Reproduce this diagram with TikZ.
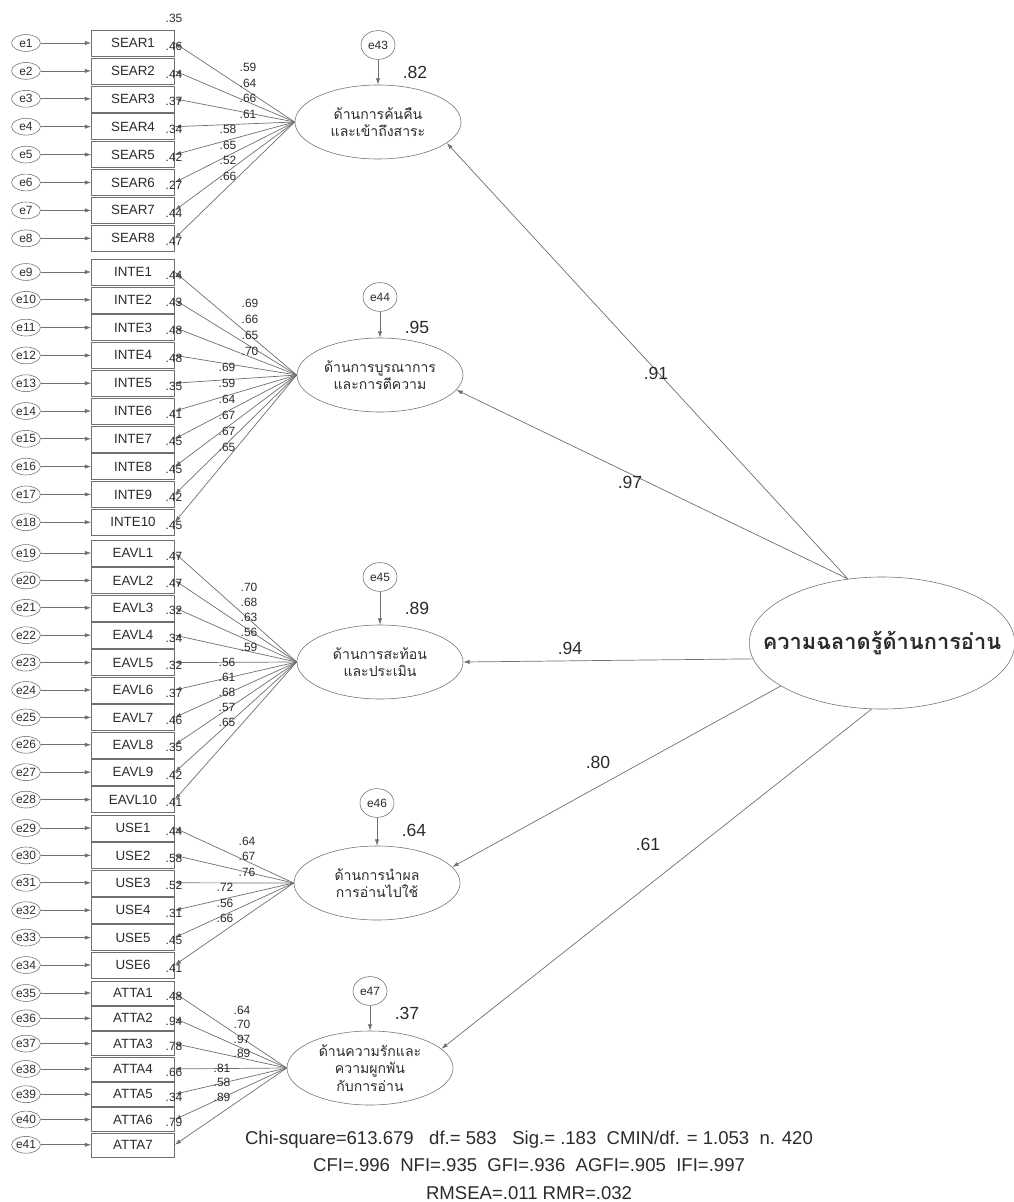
\documentclass[tikz,border=0pt]{standalone}
\usepackage{fontspec}
\setmainfont{Liberation Sans}
\newfontfamily\thaifont[Script=Thai]{Loma}
\usetikzlibrary{arrows.meta,calc,positioning,shapes.geometric}
\definecolor{semgray}{HTML}{6F6F6F}
\definecolor{semtext}{HTML}{2B2B2B}
\tikzset{
  errnode/.style={draw=semgray, ellipse, minimum width=0.72cm, minimum height=0.42cm, inner sep=0pt, text=semtext, font=\fontsize{8.5}{9}\selectfont},
  disturb/.style={draw=semgray, ellipse, minimum width=0.85cm, minimum height=0.72cm, inner sep=0pt, text=semtext, font=\fontsize{8.5}{9}\selectfont},
  itembox/.style={draw=semgray, rectangle, minimum width=2.075cm, minimum height=0.65cm, inner sep=0pt, text=semtext, font=\fontsize{9.5}{10}\selectfont},
  attabox/.style={itembox, minimum height=0.6cm},
  factor/.style={draw=semgray, ellipse, minimum width=4.15cm, minimum height=1.85cm, inner sep=0pt, align=center, text=semtext, font=\thaifont\fontsize{10}{12.5}\selectfont},
  second/.style={draw=semgray, ellipse, minimum width=6.45cm, minimum height=3.3cm, inner xsep=-18pt, inner ysep=0pt, text=semtext, font=\thaifont\bfseries\fontsize{15.5}{18}\selectfont},
  semarrow/.style={semgray, line width=0.5pt, -{Latex[length=4.5pt,width=3pt]}},
  est/.style={inner sep=0pt, text=semtext, font=\fontsize{8.5}{9}\selectfont},
  bigest/.style={inner sep=0pt, text=semtext, font=\fontsize{12.5}{13}\selectfont},
  fitnote/.style={inner sep=0pt, align=center, text=semtext, font=\fontsize{13.2}{19.5}\selectfont}
}
\begin{document}
\begin{tikzpicture}[x=0.025cm, y=-0.025cm]
  \useasboundingbox (0,0) rectangle (1013,1202);
  % factors
  \node[second] (reading) at (882,643) {ความฉลาดรู้ด้านการอ่าน};
  \node[factor] (sear) at (378,122) {ด้านการค้นคืน\\และเข้าถึงสาระ};
  \node[factor] (inte) at (380,375) {ด้านการบูรณาการ\\และการตีความ};
  \node[factor] (eavl) at (380,662) {ด้านการสะท้อน\\และประเมิน};
  \node[factor] (use) at (377,883) {ด้านการนำผล\\การอ่านไปใช้};
  \node[factor] (atta) at (370,1068) {ด้านความรักและ\\ความผูกพัน\\กับการอ่าน};
  % disturbances
  \foreach \k/\fac/\yy/\rsq/\ry in {43/sear/45/.82/72, 44/inte/297/.95/327, 45/eavl/577/.89/608, 46/use/803/.64/830, 47/atta/991/.37/1013}{
    \path (\fac) ++(0,0) coordinate (tmp);
    \node[disturb] (e\k) at (tmp |- 0,\yy) {e\k};
    \draw[semarrow] (e\k) -- (\fac);
    \node[bigest] at ($(e\k)+(37,\ry-\yy)$) {\rsq};
  }
  % second order paths
  \draw[semarrow] (reading.118) -- (sear.-17);
  \draw[semarrow] (reading.118) -- (inte.-11);
  \draw[semarrow] (reading.187) -- (eavl.east);
  \draw[semarrow] (reading.203) -- (use.12);
  \draw[semarrow] (reading.261) -- (atta.15);
  \node[bigest] at (656,373) {.91};
  \node[bigest] at (630,482) {.97};
  \node[bigest] at (570,648) {.94};
  \node[bigest] at (598,762) {.80};
  \node[bigest] at (648,844) {.61};

  % SEAR
  \node[est] at (174,18) {.35};
  \foreach \lab/\rsq [count=\i] in {SEAR1/.46,SEAR2/.44,SEAR3/.37,SEAR4/.34,SEAR5/.42,SEAR6/.27,SEAR7/.44,SEAR8/.47}{
    \node[errnode] (e\i) at (26,{43+(\i-1)*27.9}) {e\i};
    \node[itembox] (\lab) at (133,{43+(\i-1)*27.9}) {\lab};
    \draw[semarrow] (e\i) -- (\lab);
    \draw[semarrow] (sear.west) -- (\lab.east);
    \node[est] at (174,{46+(\i-1)*27.9}) {\rsq};
  }
  \foreach \ld [count=\i] in {.59,.64,.66,.61,.58,.65,.52,.66}{
    \pgfmathsetmacro{\lx}{\i<5 ? 248 : 228}
    \node[est] at (\lx,{122+(\i-4.5)*15.5}) {\ld};
  }

  % INTE
  \foreach \lab/\rsq [count=\i] in {INTE1/.44,INTE2/.43,INTE3/.48,INTE4/.48,INTE5/.35,INTE6/.41,INTE7/.45,INTE8/.45,INTE9/.42,INTE10/.45}{
    \pgfmathtruncatemacro{\k}{\i+8}
    \node[errnode] (e\k) at (26,{272+(\i-1)*27.8}) {e\k};
    \node[itembox] (\lab) at (133,{272+(\i-1)*27.8}) {\lab};
    \draw[semarrow] (e\k) -- (\lab);
    \draw[semarrow] (inte.west) -- (\lab.east);
    \node[est] at (174,{275+(\i-1)*27.8}) {\rsq};
  }
  \foreach \ld [count=\i] in {.69,.66,.65,.70,.69,.59,.64,.67,.67,.65}{
    \pgfmathsetmacro{\lx}{\i<5 ? 250 : 227}
    \node[est] at (\lx,{375+(\i-5.5)*16}) {\ld};
  }

  % EAVL
  \foreach \lab/\rsq [count=\i] in {EAVL1/.47,EAVL2/.47,EAVL3/.32,EAVL4/.34,EAVL5/.32,EAVL6/.37,EAVL7/.46,EAVL8/.35,EAVL9/.42,EAVL10/.41}{
    \pgfmathtruncatemacro{\k}{\i+18}
    \node[errnode] (e\k) at (26,{553+(\i-1)*27.4}) {e\k};
    \node[itembox] (\lab) at (133,{553+(\i-1)*27.4}) {\lab};
    \draw[semarrow] (e\k) -- (\lab);
    \draw[semarrow] (eavl.west) -- (\lab.east);
    \node[est] at (174,{556+(\i-1)*27.4}) {\rsq};
  }
  \foreach \ld [count=\i] in {.70,.68,.63,.56,.59,.56,.61,.68,.57,.65}{
    \pgfmathsetmacro{\lx}{\i<6 ? 249 : 227}
    \node[est] at (\lx,{662+(\i-6)*15}) {\ld};
  }

  % USE
  \foreach \lab/\rsq [count=\i] in {USE1/.44,USE2/.58,USE3/.52,USE4/.31,USE5/.45,USE6/.41}{
    \pgfmathtruncatemacro{\k}{\i+28}
    \node[errnode] (e\k) at (26,{828+(\i-1)*27.4}) {e\k};
    \node[itembox] (\lab) at (133,{828+(\i-1)*27.4}) {\lab};
    \draw[semarrow] (e\k) -- (\lab);
    \draw[semarrow] (use.west) -- (\lab.east);
    \node[est] at (174,{831+(\i-1)*27.4}) {\rsq};
  }
  \foreach \ld [count=\i] in {.64,.67,.76,.72,.56,.66}{
    \pgfmathsetmacro{\lx}{\i<4 ? 247 : 225}
    \node[est] at (\lx,{883+(\i-3.7)*15.5}) {\ld};
  }

  % ATTA
  \foreach \lab/\rsq [count=\i] in {ATTA1/.48,ATTA2/.94,ATTA3/.78,ATTA4/.66,ATTA5/.34,ATTA6/.79,ATTA7/{}}{
    \pgfmathtruncatemacro{\k}{\i+34}
    \node[errnode] (e\k) at (26,{993+(\i-1)*25.3}) {e\k};
    \node[attabox] (\lab) at (133,{993+(\i-1)*25.3}) {\lab};
    \draw[semarrow] (e\k) -- (\lab);
    \draw[semarrow] (atta.west) -- (\lab.east);
    \node[est] at (174,{996+(\i-1)*25.3}) {\rsq};
  }
  \foreach \ld [count=\i] in {.64,.70,.97,.89,.81,.58,.89}{
    \pgfmathsetmacro{\lx}{\i<5 ? 242 : 222}
    \node[est] at (\lx,{1068+(\i-5)*14.5}) {\ld};
  }

  % fit indices
  \node[fitnote] (fit) at (529,1165) {Chi-square=613.679\ \ \ df.= 583\ \ \ Sig.= .183\ \ CMIN/df. = 1.053\ \ n. 420\\
    CFI=.996\ \ NFI=.935\ \ GFI=.936\ \ AGFI=.905\ \ IFI=.997\\
    RMSEA=.011 RMR=.032};
\end{tikzpicture}
\end{document}
